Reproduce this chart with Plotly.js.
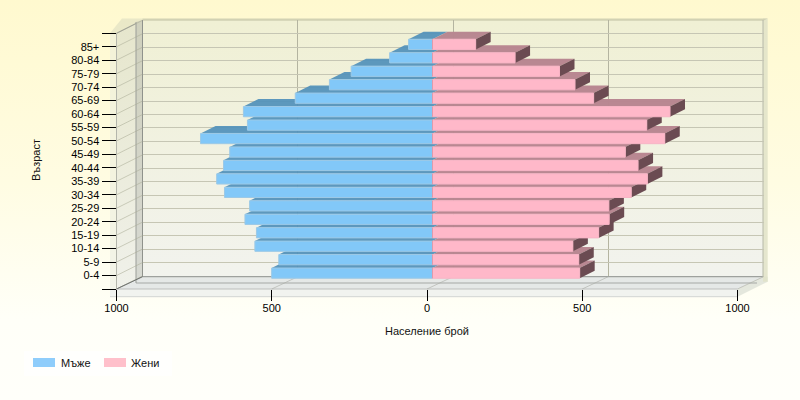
<!DOCTYPE html>
<html><head><meta charset="utf-8">
<script src="https://cdn.plot.ly/plotly-3.0.1.min.js"></script>
<style>
html,body{margin:0;padding:0;width:800px;height:400px;overflow:hidden}
body{background:linear-gradient(to bottom,#FFF9CF 0%,#FFFCE2 45%,#FFFFF8 80%,#FFFFFA 100%);position:relative}
.w{position:absolute}
#chart{position:absolute;left:0;top:0;width:800px;height:400px}
</style></head><body>
<div class="w" style="left:142px;top:20px;width:621px;height:257px;background:linear-gradient(to bottom,#F0F0D4,#F2F3EE)"></div>
<div class="w" style="left:116px;top:20px;width:26px;height:270px;background:linear-gradient(to bottom,#E6E6CC,#F0F1EA);clip-path:polygon(0 13px,100% 0,100% 257px,0 100%)"></div>
<div id="chart"></div>
<script>
const ages = ['0-4','5-9','10-14','15-19','20-24','25-29','30-34','35-39','40-44','45-49','50-54','55-59','60-64','65-69','70-74','75-79','80-84','85+'];
const men = [518,495,572,567,604,589,670,695,673,653,747,596,609,442,332,262,138,77];
const women = [474,471,452,535,569,568,640,692,662,621,748,690,765,519,459,409,266,139];
const xTicks = [-1000,-500,0,500,1000];

const W=800,H=400;
const fx=p=>p/W, fy=p=>1-p/H;
const L=116.5,R=737.5,T=33.3,B=289;
const pxPerX=(R-L)/2000, pxPerCat=(B-T)/19;
const ids=ages.map((_,i)=>i);
const rowTicks=[-1].concat(ids,[18]);
const rowLabels=[''].concat(ages,['']);
const BLUE='#82C8F8',PINK='#FFB8C9';
const halfBar=0.38;
const depthX=15/pxPerX, depthY=7.5/pxPerCat;

const poly=(pts,fill,extra)=>Object.assign({type:'path',xref:'paper',yref:'paper',layer:'below',
  path:'M'+pts.map(p=>fx(p[0])+','+fy(p[1])).join('L')+'Z',fillcolor:fill,line:{width:0}},extra||{});
const seg=(a,b,c,w)=>({type:'line',xref:'paper',yref:'paper',layer:'below',x0:fx(a[0]),y0:fy(a[1]),x1:fx(b[0]),y1:fy(b[1]),line:{color:c,width:w||1}});

const shapes=[];
// wall and floor body
shapes.push(poly([[110,33.3],[122,18.5],[142.5,18.5],[142.5,20.7],[116.5,33.3]],'rgba(225,225,195,0.7)'));
shapes.push(poly([[136,22],[142.5,20],[142.5,277],[136,283]],'rgba(150,155,150,0.28)'));
shapes.push(poly([[110,33.3],[116.5,33.3],[116.5,289],[110,296.7]],'rgba(228,232,222,0.45)'));
shapes.push(poly([[116.5,289],[142.5,276.7],[763,276.7],[737.5,289]],'rgba(222,226,228,0.8)'));
shapes.push(poly([[110,289],[737.5,289],[737.5,296.7],[110,296.7]],'rgba(240,242,238,0.9)'));
shapes.push(poly([[737.5,289],[763,276.7],[767.7,276.7],[767.7,281.7],[737.5,296.7]],'rgba(225,228,218,0.9)'));
shapes.push(poly([[763,18.5],[767.7,18.5],[767.7,281.7],[763,281.7]],'rgba(225,226,200,0.85)'));
shapes.push(poly([[142.5,18.5],[767.7,18.5],[763,20.7],[142.5,20.7]],'rgba(205,205,175,0.9)'));
shapes.push(seg([142.5,276.7],[763,276.7],'#8c8f8c',1));
shapes.push(seg([136,283],[757,283],'#a5a8a5',1));
shapes.push(seg([116.5,289],[737.5,289],'#bdbfbd',1));
shapes.push(seg([110,296.7],[737.5,296.7],'#d2d4d2',1));
shapes.push(seg([136,22],[136,283],'#9a9d98',1));
shapes.push(seg([142.5,20],[142.5,277],'#8f928c',1));
shapes.push(seg([116.5,33.3],[116.5,289],'#b4b6ac',1));
shapes.push(seg([763,20],[763,277],'#b6b8a8',1));
// diagonals on side wall and floor, at every tick of the front axes
rowTicks.forEach(t=>{const y=B-(t+1)*pxPerCat; shapes.push(seg([116.5,y],[142.5,y-13],'rgba(170,172,150,0.55)',1));});
xTicks.forEach(t=>{const x=L+(t+1000)*pxPerX; shapes.push(seg([x,289],[x+26,276.7],'rgba(170,172,165,0.6)',1));});
shapes.push(seg([116.5,289],[142.5,276.7],'#6f726f',1));
shapes.push(seg([116.5,33.3],[136,23.5],'#a0a296',1));
// legend
shapes.push(poly([[24,351],[172,351],[172,376],[24,376]],'rgba(255,255,255,0.7)'));
shapes.push(poly([[33,358],[55,358],[55,367],[33,367]],'#8FCDFB'));
shapes.push(poly([[104,358],[126,358],[126,367],[104,367]],'#FFC0CB'));

// depth faces of the bars, lower rows first
const face=(pts,fill)=>({type:'path',xref:'x2',yref:'y2',layer:'below',
  path:'M'+pts.map(p=>p[0]+','+p[1]).join('L')+'Z',fillcolor:fill,line:{width:0}});
ids.forEach(i=>{
  const t=i+halfBar,b=i-halfBar;
  shapes.push(face([[-men[i],t],[0,t],[depthX,t+depthY],[depthX-men[i],t+depthY]],'rgba(84,146,186,0.95)'));
  shapes.push(face([[0,t],[women[i],t],[women[i]+depthX,t+depthY],[depthX,t+depthY]],'rgba(184,134,144,0.98)'));
  shapes.push(face([[women[i],b],[women[i],t],[women[i]+depthX,t+depthY],[women[i]+depthX,b+depthY]],'#6B4B52'));
});

const txt=(s,x,y,a,o)=>Object.assign({text:s,xref:'paper',yref:'paper',x:fx(x),y:fy(y),xanchor:a||'left',yanchor:'middle',showarrow:false,
  font:{family:'"Liberation Sans",Arial,sans-serif',size:11,color:'#111'}},o||{});

const font={family:'"Liberation Sans",Arial,sans-serif',size:11,color:'#000'};
const zeroX=[],zeroY=[];
ids.forEach(i=>{zeroX.push(0,0,null);zeroY.push(i-halfBar,i+halfBar,null);});
const data=[
 {type:'bar',orientation:'h',name:'Мъже',y:ids,x:men.map(v=>-v),xaxis:'x2',yaxis:'y2',width:2*halfBar,
  marker:{color:BLUE,line:{color:'#9CC9E6',width:1}},hoverinfo:'skip'},
 {type:'bar',orientation:'h',name:'Жени',y:ids,x:women,xaxis:'x2',yaxis:'y2',width:2*halfBar,
  marker:{color:PINK,line:{color:'#F7B4C5',width:1}},hoverinfo:'skip'},
 {type:'scatter',mode:'lines',x:zeroX,y:zeroY,xaxis:'x2',yaxis:'y2',line:{color:'#E09AAB',width:1},showlegend:false,hoverinfo:'skip'},
 {type:'scatter',mode:'none',x:[0],y:[0],xaxis:'x',yaxis:'y',showlegend:false,hoverinfo:'skip'},
 {type:'scatter',mode:'none',x:[0],y:[0],xaxis:'x3',yaxis:'y3',showlegend:false,hoverinfo:'skip'}
];
const off={showticklabels:false,ticks:'',showline:false,zeroline:false};
const layout={
 width:W,height:H,margin:{l:0,r:0,t:0,b:0},showlegend:false,barmode:'overlay',
 paper_bgcolor:'rgba(0,0,0,0)',plot_bgcolor:'rgba(0,0,0,0)',font:font,
 // back wall
 xaxis:Object.assign({},off,{domain:[fx(L+26),fx(R+26)],range:[-1000,1000],anchor:'y',tickvals:xTicks,showgrid:true,gridcolor:'#B4B4A0',gridwidth:1}),
 yaxis:Object.assign({},off,{domain:[fy(B-13),fy(T-13)],range:[-1,18],anchor:'x',tickvals:rowTicks,showgrid:true,gridcolor:'#C6C6B4',gridwidth:1}),
 // bars
 xaxis2:Object.assign({},off,{domain:[fx(L+5.5),fx(R+5.5)],range:[-1000,1000],anchor:'y2',showgrid:false}),
 yaxis2:Object.assign({},off,{domain:[fy(B-2.4),fy(T-2.4)],range:[-1,18],anchor:'x2',showgrid:false}),
 // front axes
 xaxis3:{domain:[fx(L),fx(R)],range:[-1000,1000],anchor:'y3',tickvals:xTicks,ticktext:xTicks.map(v=>String(Math.abs(v))),
   ticks:'outside',ticklen:11,tickwidth:1,tickcolor:'#000',showgrid:false,zeroline:false,showline:false,tickfont:font,ticklabelstandoff:-2},
 yaxis3:{domain:[fy(B),fy(T)],range:[-1,18],anchor:'x3',tickvals:rowTicks,ticktext:rowLabels,
   ticks:'outside',ticklen:14,tickwidth:1,tickcolor:'#000',showgrid:false,zeroline:false,showline:false,tickfont:font,ticklabelshift:1.5},
 shapes:shapes,
 annotations:[
  txt('Население брой',427,331,'center'),
  txt('Възраст',36,160,'center',{textangle:-90}),
  txt('Мъже',59,363),
  txt('Жени',129,363)
 ]
};
Plotly.newPlot('chart',data,layout,{staticPlot:true,displayModeBar:false});
</script>
</body></html>
